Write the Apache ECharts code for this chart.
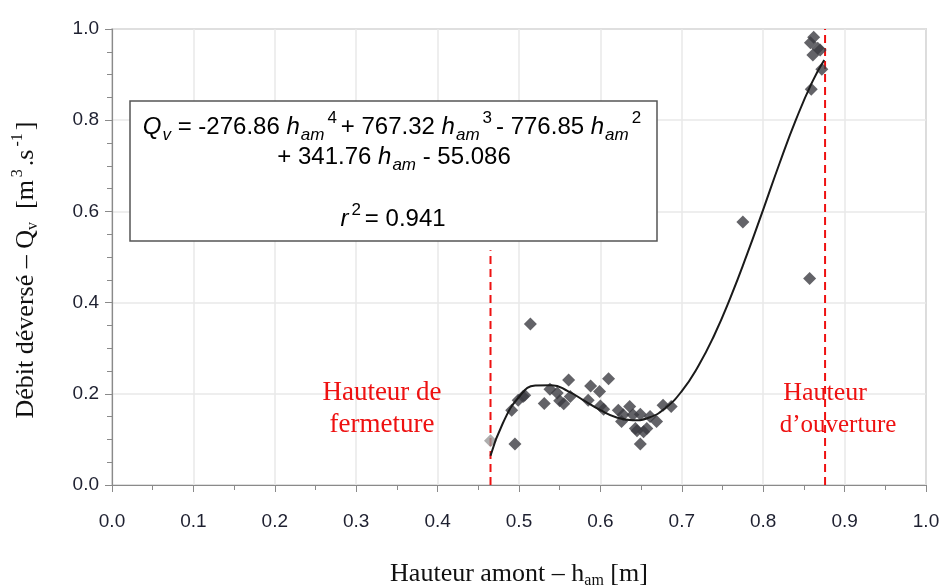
<!DOCTYPE html>
<html><head><meta charset="utf-8">
<script src="https://cdn.jsdelivr.net/npm/echarts@6/dist/echarts.min.js"></script>
<style>html,body{margin:0;padding:0;background:#fff}#c{width:944px;height:587px}</style>
</head><body><div id="c"></div>
<script>
// measured points (h_am [m], Qv [m3/s])
const hamMeasured = [0.495,0.491,0.499,0.505,0.514,0.531,0.538,0.547,0.555,0.561,0.563,0.585,0.588,0.599,0.600,0.604,0.610,0.622,0.626,0.628,0.636,0.640,0.643,0.645,0.649,0.649,0.653,0.657,0.661,0.669,0.677,0.687,0.775,0.857,0.859,0.862,0.858,0.867,0.861,0.870,0.872,0.507,0.550];
const qvMeasured  = [0.090,0.164,0.186,0.194,0.353,0.179,0.210,0.202,0.178,0.230,0.194,0.186,0.217,0.205,0.173,0.166,0.233,0.164,0.139,0.154,0.172,0.154,0.124,0.119,0.155,0.090,0.117,0.124,0.150,0.139,0.175,0.172,0.577,0.453,0.868,0.982,0.970,0.958,0.943,0.954,0.912,0.197,0.185];
// light grey point
const hamGrey = [0.465];
const qvGrey = [0.097];
// fitted curve
const hamFit = [0.465,0.48,0.50,0.52,0.54,0.56,0.58,0.60,0.62,0.64,0.66,0.68,0.70,0.72,0.74,0.76,0.78,0.80,0.82,0.84,0.86,0.875];
const qvFit  = [0.064,0.135,0.193,0.218,0.219,0.206,0.185,0.164,0.148,0.142,0.148,0.169,0.206,0.260,0.329,0.412,0.505,0.604,0.705,0.800,0.883,0.932];
// limits
const hClose = 0.465, qCloseTop = 0.515;
const hOpen = 0.876, qOpenTop = 1.0;
const xTicks = [0,1,0.1];
const yTicks = [0,1,0.2];

const zip = (a,b)=>a.map((v,i)=>[v,b[i]]);
const chart = echarts.init(document.getElementById('c'));
const serif = '"Liberation Serif","Times New Roman",serif';
const sans = '"Liberation Sans",Arial,sans-serif';
const tickLbl = {fontFamily:sans,fontSize:19,color:'#1e2030',formatter:v=>v.toFixed(1)};
const eqRich = {
  t:{fontFamily:sans,fontSize:24,color:'#111'},
  i:{fontFamily:sans,fontSize:24,fontStyle:'italic',color:'#111'},
  s:{fontFamily:sans,fontSize:17,fontStyle:'italic',color:'#111',padding:[16,0,0,1]},
  p:{fontFamily:sans,fontSize:17,color:'#111',padding:[0,4,18,3]}
};
const nameRich = {
  t:{fontFamily:serif,fontSize:26,color:'#111'},
  e:{fontFamily:serif,fontSize:26,color:'#111',padding:[0,26,0,0]},
  s:{fontFamily:serif,fontSize:16,color:'#111',padding:[14,0,0,0]},
  p:{fontFamily:serif,fontSize:16,color:'#111',padding:[0,3,16,3]}
};
const redTxt = (x,y,t,fs)=>({type:'text',x:x,y:y,z:100,style:{text:t,fontFamily:serif,fontSize:fs||26,fill:'#ee1111',align:'center',verticalAlign:'middle'}});
chart.setOption({
  animation:false,
  grid:{left:112,right:18,top:29,bottom:102,show:true,borderColor:'#8a8a8a',borderWidth:1.2,outerBoundsMode:'none',containLabel:false},
  xAxis:{type:'value',min:xTicks[0],max:xTicks[1],interval:xTicks[2],
    axisLine:{onZero:false,lineStyle:{color:'#8a8a8a',width:1.2}},
    axisTick:{length:7,lineStyle:{color:'#8a8a8a'}},
    minorTick:{show:true,splitNumber:2,length:5,lineStyle:{color:'#8a8a8a'}},
    splitLine:{lineStyle:{color:'#e8e8e8',width:1.5}},
    axisLabel:Object.assign({margin:27},tickLbl),
    name:'{t|Hauteur amont – h}{s|am}{t| [m]}',nameLocation:'middle',nameGap:74,
    nameTextStyle:{rich:nameRich}},
  yAxis:{type:'value',min:yTicks[0],max:yTicks[1],interval:yTicks[2],
    axisLine:{show:true,onZero:false,lineStyle:{color:'#8a8a8a',width:1.2}},
    axisTick:{show:true,length:7,lineStyle:{color:'#8a8a8a'}},
    minorTick:{show:true,splitNumber:4,length:5,lineStyle:{color:'#8a8a8a'}},
    splitLine:{lineStyle:{color:'#e8e8e8',width:1.5}},
    axisLabel:Object.assign({margin:13},tickLbl),
    name:'{t|Débit déversé – Q}{s|v}{t|  [m}{p|3}{t|.s}{p|-1}{e|]}',nameLocation:'middle',nameGap:70,
    nameTextStyle:{rich:nameRich}},
  graphic:[
    {type:'rect',shape:{x:130,y:101,width:527,height:140},style:{fill:'#fff',stroke:'#555',lineWidth:1.5},z:10},
    {type:'text',x:394,y:127,z:11,style:{text:'{i|Q}{s|v}{t| = -276.86 }{i|h}{s|am}{p|4}{t|+ 767.32 }{i|h}{s|am}{p|3}{t|- 776.85 }{i|h}{s|am}{p|2}',rich:eqRich,align:'center',verticalAlign:'middle'}},
    {type:'text',x:394,y:157,z:11,style:{text:'{t|+ 341.76 }{i|h}{s|am}{t| - 55.086}',rich:eqRich,align:'center',verticalAlign:'middle'}},
    {type:'text',x:393,y:219,z:11,style:{text:'{i|r}{p|2}{t|= 0.941}',rich:eqRich,align:'center',verticalAlign:'middle'}},
    redTxt(382,393,'Hauteur de',27),
    redTxt(382,425,'fermeture',27),
    redTxt(825,393,'Hauteur',26),
    redTxt(838,425,'d’ouverture',25)
  ],
  series:[
    {type:'line',data:[[hClose,0],[hClose,qCloseTop]],symbol:'none',lineStyle:{color:'#ee1111',width:2,type:[8,5]},z:3},
    {type:'line',data:[[hOpen,0],[hOpen,qOpenTop]],symbol:'none',lineStyle:{color:'#ee1111',width:2,type:[8,5]},z:3},
    {type:'scatter',data:zip(hamGrey,qvGrey),symbol:'diamond',symbolSize:13,itemStyle:{color:'#9a9a9a'},z:4},
    {type:'scatter',data:zip(hamMeasured,qvMeasured),symbol:'diamond',symbolSize:13,itemStyle:{color:'#3c3c42'},z:5},
    {type:'line',data:zip(hamFit,qvFit),smooth:true,symbol:'none',lineStyle:{color:'#1a1a1a',width:2},z:6}
  ]
});
</script></body></html>
